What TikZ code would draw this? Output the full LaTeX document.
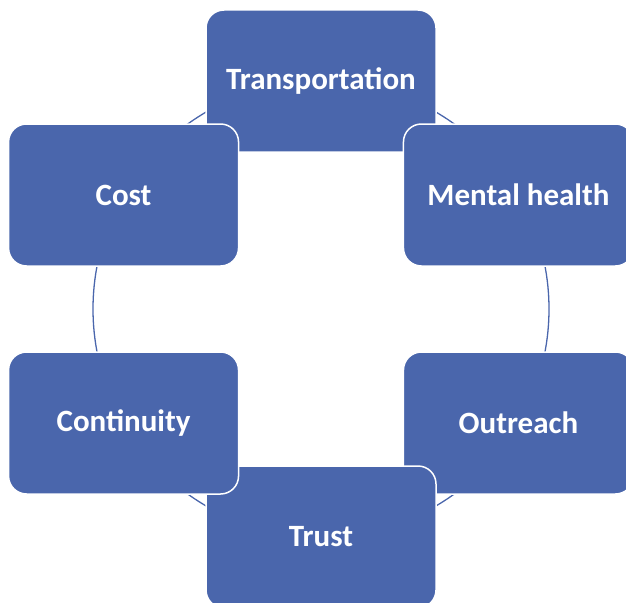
\documentclass[tikz,border=0pt]{standalone}
\usepackage{fontspec}
\setmainfont{Carlito}
\usepackage{xcolor}
\definecolor{boxblue}{RGB}{74,102,172}
\tikzset{
	item/.style={draw=white, line width=1.5pt, fill=boxblue, rounded corners=18pt,
		minimum width=230pt, minimum height=142pt, text=white,
		font=\bfseries\fontsize{31}{36}\selectfont},
	ring/.style={draw=boxblue, line width=1.3pt}}

\begin{document}
\begin{tikzpicture}[x=1pt, y=1pt]
	\useasboundingbox (0,0) rectangle (626,-602);
	\coordinate (O) at (321,-309);
	\draw[ring] (O) circle (228pt);

	\node[item] (trans) at ([shift={(90:228pt)}]O) {Transportation};
	\node[item] (mental) at ([shift={(30:228pt)}]O) {Mental health};
	\node[item] (outreach) at ([shift={(-30:228pt)}]O) {Outreach};
	\node[item] (trust) at ([shift={(-90:228pt)}]O) {Trust};
	\node[item] (cont) at ([shift={(-150:228pt)}]O) {Continuity};
	\node[item] (cost) at ([shift={(150:228pt)}]O) {Cost};
\end{tikzpicture}
\end{document}
